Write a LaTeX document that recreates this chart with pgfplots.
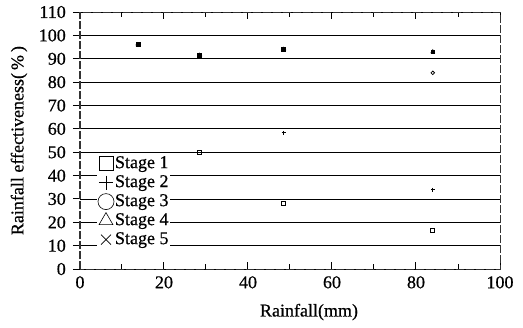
\documentclass[border=0pt]{standalone}
\usepackage{pgfplots}
\pgfplotsset{compat=1.18}
\usepackage{fontspec}
\setmainfont{Liberation Serif}[UprightFeatures={FakeBold=0.6}]
\begin{document}
\fontsize{18}{20}\selectfont
\begin{tikzpicture}
\begin{axis}[
  name=main,
  scale only axis, width=420pt, height=257pt,
  xmin=0, xmax=100, ymin=0, ymax=110,
  xtick={0,20,...,100}, minor xtick={10,30,50,70,90},
  ytick={0,10,...,110},
  /pgf/number format/assume math mode=true,
  tick label style={font=\fontsize{18}{20}\selectfont},
  label style={font=\fontsize{18}{20}\selectfont},
  xlabel={Rainfall(mm)}, ylabel={Rainfall effectiveness(\,\%\,)},
  every axis x label/.style={at={(rel axis cs:0.5,0)}, anchor=center, yshift=-43pt, xshift=19pt},
  every axis y label/.style={at={(rel axis cs:0,0.5)}, anchor=center, rotate=90, yshift=61pt},
  ymajorgrids, grid style={black, line width=0.9pt},
  axis line style={black!80, line width=0.9pt, dash pattern=on 8pt off 2pt},
  xtick align=inside, ytick align=outside,
  ytick pos=left,
  major tick length=7pt, minor tick length=5pt,
  every tick/.style={black, line width=1pt, solid},
  y tick label style={xshift=-1pt},
  x tick label style={yshift=-1pt},
  legend style={at={(rel axis cs:0.04,0.452)}, anchor=north west, draw=none, fill=white,
    font=\fontsize{18}{20}\selectfont, row sep=0pt, inner sep=1pt,
    nodes={inner sep=1pt, text height=13pt, text depth=4pt}},
  legend cell align=left,
  clip=false,
]
\addlegendimage{only marks, mark=square, mark size=7pt, black, line width=0.6pt}
\addlegendentry{Stage 1}
\addlegendimage{only marks, mark=+, mark size=7pt, black, line width=0.6pt}
\addlegendentry{Stage 2}
\addlegendimage{only marks, mark=o, mark size=8pt, black, line width=0.6pt}
\addlegendentry{Stage 3}
\addlegendimage{only marks, mark=triangle, mark size=8pt, black, line width=0.6pt}
\addlegendentry{Stage 4}
\addlegendimage{only marks, mark=x, mark size=7pt, black, line width=0.6pt}
\addlegendentry{Stage 5}
\addplot[only marks, mark=square, mark size=2pt, black, line width=0.8pt, forget plot] coordinates {(13.8,96) (28.5,50) (48.5,28) (84,16.4)};
\addplot[only marks, mark=+, mark size=2pt, black, line width=0.8pt, forget plot] coordinates {(13.8,96) (28.5,91.5) (48.5,58.3) (84,34)};
\addplot[only marks, mark=o, mark size=1.8pt, black, line width=0.8pt, forget plot] coordinates {(13.8,96) (28.5,91.5) (48.5,94) (84,84)};
\addplot[only marks, mark=triangle*, mark size=2pt, black, line width=0.8pt, forget plot] coordinates {(13.8,96) (28.5,91.5) (48.5,94) (84,93)};
\addplot[only marks, mark=square*, mark size=1.8pt, black, line width=0.8pt, forget plot] coordinates {(13.8,96) (28.5,91.5) (48.5,94) (84,93)};
\end{axis}
\draw[black!80, line width=1.1pt, dash pattern=on 8pt off 2pt] (main.south west) -- (main.north west);
\path (main.south west) ++(-80pt,-58pt);
\path (main.north east) ++(23pt,12pt);
\end{tikzpicture}
\end{document}
